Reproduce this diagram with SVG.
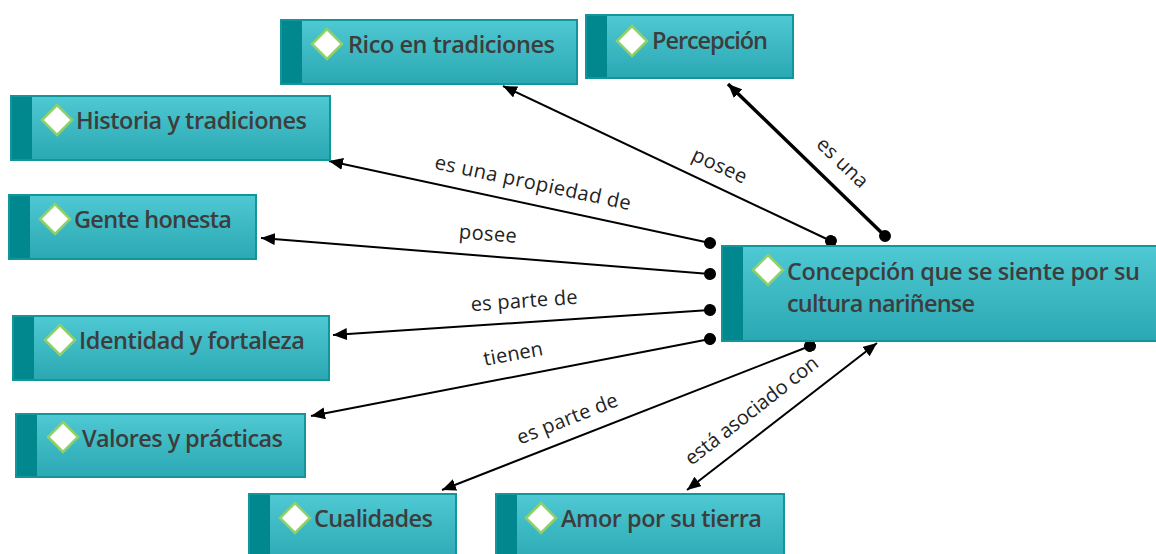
<svg xmlns="http://www.w3.org/2000/svg" width="1156" height="554" viewBox="0 0 1156 554">
<defs>
<linearGradient id="g" x1="0" y1="0" x2="0" y2="1">
<stop offset="0" stop-color="#4fc9d3"/>
<stop offset="1" stop-color="#2aa8b3"/>
</linearGradient>
<marker id="arr" viewBox="0 0 14 12" refX="14" refY="6" markerWidth="14" markerHeight="12" markerUnits="userSpaceOnUse" orient="auto-start-reverse">
<path d="M0,0 L14,6 L0,12 Z" fill="#000"/>
</marker>
<marker id="dot" viewBox="0 0 12 12" refX="6" refY="6" markerWidth="12" markerHeight="12" markerUnits="userSpaceOnUse" orient="auto">
<circle cx="6" cy="6" r="6" fill="#000"/>
</marker>
</defs>
<style>
.box{fill:url(#g);stroke:#13959c;stroke-width:2}
.bar{fill:#00888e}
.dia{fill:#fff;stroke:#8fd168;stroke-width:2.5}
.nt{font-family:"Open Sans","Noto Sans",sans-serif;font-weight:600;font-size:23.5px;fill:#3d3d3d}
.c{fill:none;stroke:#000;stroke-width:2}
.lb{font-family:"Open Sans","Noto Sans",sans-serif;font-size:20px;fill:#222;text-anchor:middle;dominant-baseline:central}
</style>
<rect width="1156" height="554" fill="#fff"/>
<g id="connectors">
<line class="c" x1="831" y1="241" x2="503" y2="86" marker-start="url(#dot)" marker-end="url(#arr)"/>
<line class="c" x1="885" y1="236" x2="728" y2="84" style="stroke-width:3.5" marker-start="url(#dot)" marker-end="url(#arr)"/>
<line class="c" x1="710" y1="243" x2="329" y2="161" marker-start="url(#dot)" marker-end="url(#arr)"/>
<line class="c" x1="710" y1="274" x2="261" y2="238" marker-start="url(#dot)" marker-end="url(#arr)"/>
<line class="c" x1="710" y1="310" x2="333" y2="335" marker-start="url(#dot)" marker-end="url(#arr)"/>
<line class="c" x1="710" y1="339" x2="311" y2="416" marker-start="url(#dot)" marker-end="url(#arr)"/>
<line class="c" x1="810" y1="346" x2="442" y2="490" marker-start="url(#dot)" marker-end="url(#arr)"/>
<line class="c" x1="877" y1="343" x2="687" y2="490" marker-start="url(#arr)" marker-end="url(#arr)"/>
<text class="lb" transform="translate(720,165) rotate(25)" textLength="58">posee</text>
<text class="lb" transform="translate(843,162) rotate(44)" textLength="63">es una</text>
<text class="lb" transform="translate(533,182) rotate(12)" textLength="200">es una propiedad de</text>
<text class="lb" transform="translate(488,233) rotate(4.6)" textLength="58">posee</text>
<text class="lb" transform="translate(524,300) rotate(-4)" textLength="107">es parte de</text>
<text class="lb" transform="translate(513,353) rotate(-10.5)" textLength="60">tienen</text>
<text class="lb" transform="translate(567,418) rotate(-21.6)" textLength="107">es parte de</text>
<text class="lb" transform="translate(751,410) rotate(-38)" textLength="163">está asociado con</text>
</g>
<g id="n-rico">
<rect class="box" x="281" y="20" width="296" height="64"/>
<rect class="bar" x="282" y="21" width="20" height="62"/>
<polygon class="dia" points="327,29 342,44 327,59 312,44"/>
<text class="nt" x="348" y="53" textLength="207">Rico en tradiciones</text>
</g>
<g id="n-percepcion">
<rect class="box" x="586" y="15" width="207" height="63"/>
<rect class="bar" x="587" y="16" width="20" height="61"/>
<polygon class="dia" points="632,26 647,41 632,56 617,41"/>
<text class="nt" x="652" y="49" textLength="116">Percepción</text>
</g>
<g id="n-historia">
<rect class="box" x="11" y="96" width="319" height="64"/>
<rect class="bar" x="12" y="97" width="20" height="62"/>
<polygon class="dia" points="57,105 72,120 57,135 42,120"/>
<text class="nt" x="76" y="129" textLength="231">Historia y tradiciones</text>
</g>
<g id="n-gente">
<rect class="box" x="9" y="195" width="247" height="64"/>
<rect class="bar" x="10" y="196" width="20" height="62"/>
<polygon class="dia" points="55,204 70,219 55,234 40,219"/>
<text class="nt" x="74" y="228" textLength="158">Gente honesta</text>
</g>
<g id="n-concepcion">
<rect class="box" x="722" y="246" width="440" height="95"/>
<rect class="bar" x="723" y="247" width="20" height="93"/>
<polygon class="dia" points="768,255 783,270 768,285 753,270"/>
<text class="nt" x="787" y="280" textLength="353">Concepción que se siente por su</text>
<text class="nt" x="787" y="312" textLength="188">cultura nariñense</text>
</g>
<g id="n-identidad">
<rect class="box" x="13" y="316" width="316" height="64"/>
<rect class="bar" x="14" y="317" width="20" height="62"/>
<polygon class="dia" points="60,325 75,340 60,355 45,340"/>
<text class="nt" x="79" y="349" textLength="226">Identidad y fortaleza</text>
</g>
<g id="n-valores">
<rect class="box" x="16" y="414" width="289" height="63"/>
<rect class="bar" x="17" y="415" width="20" height="61"/>
<polygon class="dia" points="63,422 78,437 63,452 48,437"/>
<text class="nt" x="82" y="447" textLength="201">Valores y prácticas</text>
</g>
<g id="n-cualidades">
<rect class="box" x="249" y="494" width="207" height="70"/>
<rect class="bar" x="250" y="495" width="20" height="68"/>
<polygon class="dia" points="295,503 310,518 295,533 280,518"/>
<text class="nt" x="314" y="527" textLength="119">Cualidades</text>
</g>
<g id="n-amor">
<rect class="box" x="496" y="494" width="288" height="70"/>
<rect class="bar" x="497" y="495" width="20" height="68"/>
<polygon class="dia" points="541,503 556,518 541,533 526,518"/>
<text class="nt" x="561" y="527" textLength="201">Amor por su tierra</text>
</g>
</svg>
